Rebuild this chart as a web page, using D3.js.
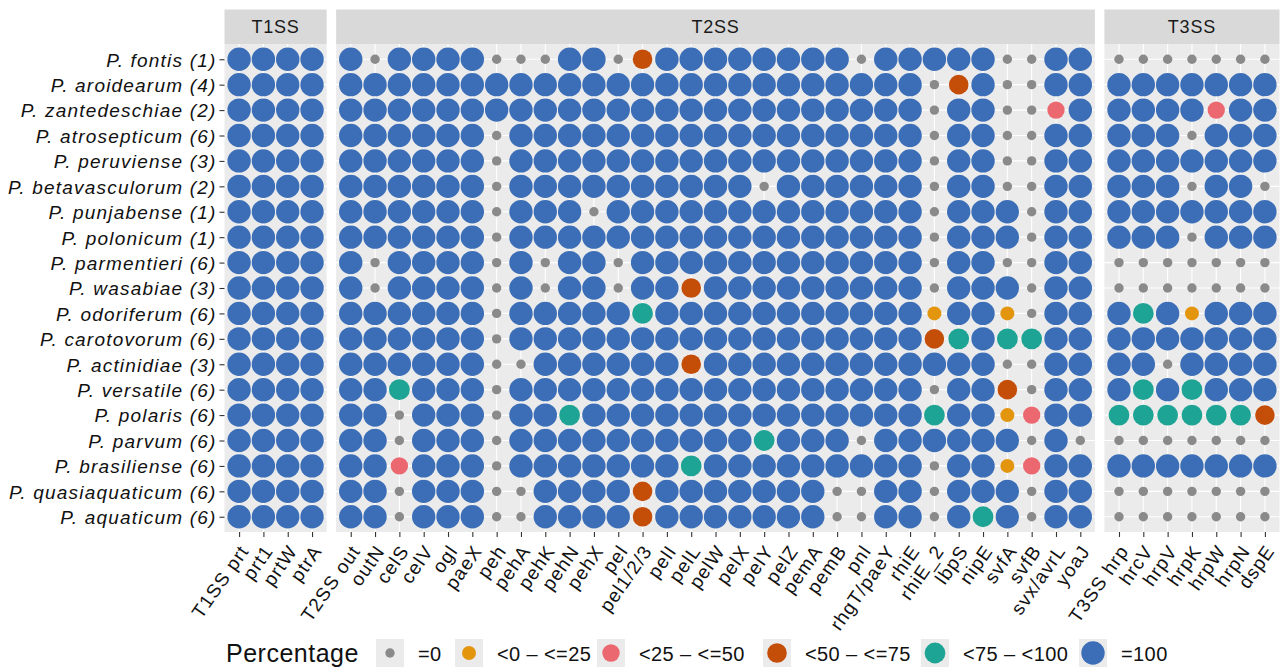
<!DOCTYPE html>
<html><head><meta charset="utf-8">
<script src="https://cdn.jsdelivr.net/npm/d3@7"></script>
<style>
body{margin:0;background:#fff}
text{font-family:"Liberation Sans",Arial,Helvetica,sans-serif}
</style>
</head><body>
<svg id="chart" width="1281" height="671"></svg>
<script>
// ---------------- data ----------------
const species = ["P. fontis (1)","P. aroidearum (4)","P. zantedeschiae (2)","P. atrosepticum (6)","P. peruviense (3)","P. betavasculorum (2)","P. punjabense (1)","P. polonicum (1)","P. parmentieri (6)","P. wasabiae (3)","P. odoriferum (6)","P. carotovorum (6)","P. actinidiae (3)","P. versatile (6)","P. polaris (6)","P. parvum (6)","P. brasiliense (6)","P. quasiaquaticum (6)","P. aquaticum (6)"];

const levels = ["=0","<0 – <=25","<25 – <=50","<50 – <=75","<75 – <100","=100"];

const t1Genes = ["T1SS prt","prt1","prtW","ptrA"];
const t2Genes = ["T2SS out","outN","celS","celV","ogl","paeX","peh","pehA","pehK","pehN","pehX","pel","pel1/2/3","pelI","pelL","pelW","pelX","pelY","pelZ","pemA","pemB","pnl","rhgT/paeY","rhiE","rhiE_2","lbpS","nipE","svfA","svfB","svx/avrL","yoaJ"];
const t3Genes = ["T3SS hrp","hrcV","hrpV","hrpK","hrpW","hrpN","dspE"];

// values are indices into `levels` (0 "=0" ... 5 "=100"), one row per species
const t1Values = [
[5,5,5,5],[5,5,5,5],[5,5,5,5],[5,5,5,5],[5,5,5,5],[5,5,5,5],[5,5,5,5],[5,5,5,5],[5,5,5,5],[5,5,5,5],
[5,5,5,5],[5,5,5,5],[5,5,5,5],[5,5,5,5],[5,5,5,5],[5,5,5,5],[5,5,5,5],[5,5,5,5],[5,5,5,5]
];
const t2Values = [
[5,0,5,5,5,5,0,0,0,5,5,0,3,5,5,5,5,5,5,5,5,0,5,5,5,5,5,0,0,5,5],
[5,5,5,5,5,5,5,5,5,5,5,5,5,5,5,5,5,5,5,5,5,5,5,5,0,3,5,0,0,5,5],
[5,5,5,5,5,5,5,5,5,5,5,5,5,5,5,5,5,5,5,5,5,5,5,5,0,5,5,0,0,2,5],
[5,5,5,5,5,5,0,5,5,5,5,5,5,5,5,5,5,5,5,5,5,5,5,5,0,5,5,0,0,5,5],
[5,5,5,5,5,5,0,5,5,5,5,5,5,5,5,5,5,5,5,5,5,5,5,5,0,5,5,0,0,5,5],
[5,5,5,5,5,5,0,5,5,5,5,5,5,5,5,5,5,0,5,5,5,5,5,5,0,5,5,0,0,5,5],
[5,5,5,5,5,5,0,5,5,5,0,5,5,5,5,5,5,5,5,5,5,5,5,5,0,5,5,5,0,5,5],
[5,5,5,5,5,5,0,5,5,5,5,5,5,5,5,5,5,5,5,5,5,5,5,5,0,5,5,5,0,5,5],
[5,0,5,5,5,5,0,5,0,5,5,0,5,5,5,5,5,5,5,5,5,5,5,5,0,5,5,0,0,5,5],
[5,0,5,5,5,5,0,5,0,5,5,0,5,5,3,5,5,5,5,5,5,5,5,5,0,5,5,5,0,5,5],
[5,5,5,5,5,5,0,5,5,5,5,5,4,5,5,5,5,5,5,5,5,5,5,5,1,5,5,1,0,5,5],
[5,5,5,5,5,5,0,5,5,5,5,5,5,5,5,5,5,5,5,5,5,5,5,5,3,4,5,4,4,5,5],
[5,5,5,5,5,5,0,0,5,5,5,5,5,5,3,5,5,5,5,5,5,5,5,5,5,5,5,0,0,5,5],
[5,5,4,5,5,5,0,5,5,5,5,5,5,5,5,5,5,5,5,5,5,5,5,5,0,5,5,3,0,5,5],
[5,5,0,5,5,5,0,5,5,4,5,5,5,5,5,5,5,5,5,5,5,5,5,5,4,5,5,1,2,5,5],
[5,5,0,5,5,5,0,5,5,5,5,5,5,5,5,5,5,4,5,5,5,0,5,5,5,5,5,5,0,5,0],
[5,5,2,5,5,5,0,5,5,5,5,5,5,5,4,5,5,5,5,5,5,5,5,5,0,5,5,1,2,5,5],
[5,5,0,5,5,5,0,0,5,5,5,5,3,5,5,5,5,5,5,5,0,0,5,5,0,5,5,5,0,5,5],
[5,5,0,5,5,5,0,0,5,5,5,5,3,5,5,5,5,5,5,5,0,0,5,5,0,5,4,5,0,5,5]
];
const t3Values = [
[0,0,0,0,0,0,0],
[5,5,5,5,5,5,5],
[5,5,5,5,2,5,5],
[5,5,5,0,5,5,5],
[5,5,5,5,5,5,5],
[5,5,5,0,5,5,0],
[5,5,5,5,5,5,5],
[5,5,5,0,5,5,5],
[0,0,0,0,0,0,0],
[0,0,0,0,0,0,0],
[5,4,5,1,5,5,5],
[5,5,5,5,5,5,5],
[5,5,0,5,5,5,5],
[5,4,5,4,5,5,5],
[4,4,4,4,4,4,3],
[0,0,0,0,0,0,0],
[5,5,5,5,5,5,5],
[0,0,0,0,0,0,0],
[0,0,0,0,0,0,0]
];

const systems = ["T1SS","T2SS","T3SS"];
const legendTitle = "Percentage";

// ---------------- styling / layout ----------------
const levelColors = ["#8A8A8A","#E4950E","#EC6870","#C44D08","#1EA494","#3B6EB7"];
const levelRadii  = [4.7, 7, 8.7, 9.8, 10.4, 11.7];

const svg = d3.select("#chart");
const plotL = 224.5, plotR = 1279.5, gap = 9.5, expand = 0.6;
const panelTop = 44, panelBottom = 532, stripTop = 9.5;

const facets = [
  {name: systems[0], genes: t1Genes, values: t1Values},
  {name: systems[1], genes: t2Genes, values: t2Values},
  {name: systems[2], genes: t3Genes, values: t3Values}
];
const units = d3.sum(facets, f => f.genes.length - 1 + 2*expand);
const step = (plotR - plotL - gap*(facets.length-1)) / units;

const yStep = (panelBottom - panelTop) / (species.length - 1 + 2*expand);
const y = d3.scalePoint().domain(species)
  .range([panelTop + expand*yStep, panelBottom - expand*yStep]);

const color = d3.scaleOrdinal().domain(d3.range(levels.length)).range(levelColors);
const radius = d3.scaleOrdinal().domain(d3.range(levels.length)).range(levelRadii);

let x0 = plotL;
facets.forEach((f, fi) => {
  const w = (f.genes.length - 1 + 2*expand) * step;
  const x = d3.scalePoint().domain(f.genes).range([x0 + expand*step, x0 + w - expand*step]);
  const g = svg.append("g");
  g.append("rect").attr("x", x0).attr("y", panelTop).attr("width", w).attr("height", panelBottom - panelTop)
    .attr("fill", "#EBEBEB");
  g.selectAll("line.gx").data(f.genes).join("line")
    .attr("x1", d => x(d)).attr("x2", d => x(d)).attr("y1", panelTop).attr("y2", panelBottom)
    .attr("stroke", "#fff").attr("stroke-width", 1.1);
  g.selectAll("line.gy").data(species).join("line")
    .attr("x1", x0).attr("x2", x0 + w).attr("y1", d => y(d)).attr("y2", d => y(d))
    .attr("stroke", "#fff").attr("stroke-width", 1.1);
  g.append("rect").attr("x", x0).attr("y", stripTop).attr("width", w).attr("height", panelTop - stripTop)
    .attr("fill", "#D9D9D9");
  g.append("text").attr("x", x0 + w/2).attr("y", (stripTop + panelTop)/2 + 6.5)
    .attr("text-anchor", "middle").attr("font-size", 18).style("letter-spacing", "0.8px")
    .attr("fill", "#1A1A1A").text(f.name);
  const pts = [];
  f.values.forEach((row, ri) => row.forEach((v, ci) => pts.push({sp: species[ri], gene: f.genes[ci], v})));
  g.selectAll("circle").data(pts).join("circle")
    .attr("cx", d => x(d.gene)).attr("cy", d => y(d.sp))
    .attr("r", d => radius(d.v)).attr("fill", d => color(d.v));
  const ax = svg.append("g").attr("transform", `translate(0,${panelBottom})`)
    .call(d3.axisBottom(x).tickSize(5).tickPadding(0));
  ax.select(".domain").remove();
  ax.selectAll(".tick line").attr("stroke", "#333").attr("stroke-width", 1.1);
  ax.selectAll(".tick text")
    .attr("x", 0).attr("y", 0).attr("dy", null)
    .attr("text-anchor", "end")
    .attr("transform", "translate(10,19) rotate(-55)")
    .attr("font-size", 19).style("letter-spacing", "1.1px")
    .attr("fill", "#111");
  if (fi === 0) {
    const ay = svg.append("g").attr("transform", `translate(${x0},0)`)
      .call(d3.axisLeft(y).tickSize(5).tickPadding(3));
    ay.select(".domain").remove();
    ay.selectAll(".tick line").attr("stroke", "#333").attr("stroke-width", 1.1);
    ay.selectAll(".tick text").attr("font-size", 19).attr("font-style", "italic")
      .style("letter-spacing", "1.2px").attr("fill", "#111").attr("dy", "0.36em");
  }
  x0 += w + gap;
});

// ---------------- legend ----------------
const lg = svg.append("g");
const legY = 653;
lg.append("text").attr("x", 226).attr("y", legY + 9).attr("font-size", 25)
  .style("letter-spacing", "0.5px").attr("fill", "#111").text(legendTitle);
const keyCenters = [390, 469, 611, 777, 935, 1093];
levels.forEach((lv, i) => {
  const cx = keyCenters[i];
  lg.append("rect").attr("x", cx - 14).attr("y", legY - 14).attr("width", 28).attr("height", 28).attr("fill", "#EBEBEB");
  lg.append("circle").attr("cx", cx).attr("cy", legY).attr("r", radius(i)).attr("fill", color(i));
  lg.append("text").attr("x", cx + 28).attr("y", legY + 8).attr("font-size", 20)
    .style("letter-spacing", "0.4px").attr("fill", "#111").text(lv);
});
</script>
</body></html>
